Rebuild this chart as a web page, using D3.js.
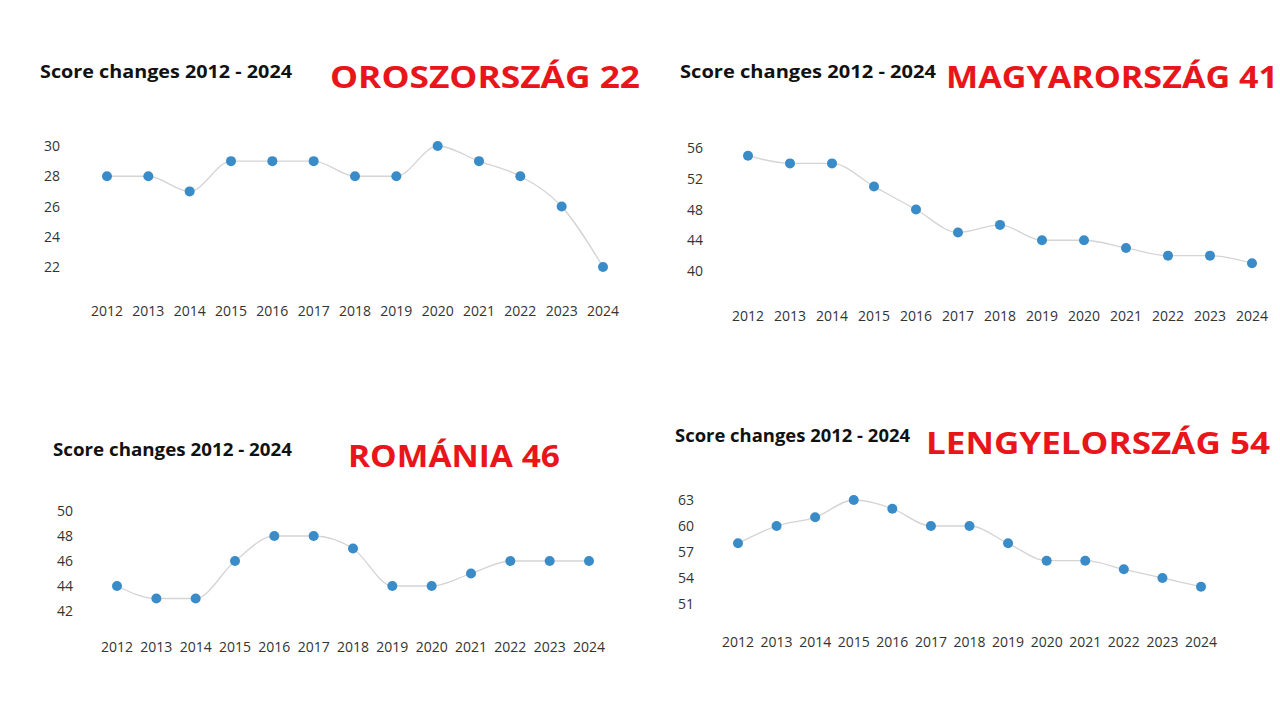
<!DOCTYPE html>
<html><head><meta charset="utf-8">
<script src="https://cdn.jsdelivr.net/npm/d3@7"></script>
<style>body{margin:0;background:#fff}text{font-family:"Open Sans",sans-serif}</style>
</head><body>
<svg id="c" width="1280" height="720"></svg>
<script>
const years = d3.range(2012, 2025)
const panels = [
  {name: "OROSZORSZÁG 22", vals: [28,28,27,29,29,29,28,28,30,29,28,26,22],
   title: [40, 78, 252], red: [330, 88, 310], x: [107, 603], y: [146, 267], yd: [30, 22], ticks: [22,24,26,28,30], ly: 316, lx: 60},
  {name: "MAGYARORSZÁG 41", vals: [55,54,54,51,48,45,46,44,44,43,42,42,41],
   title: [680, 78, 256], red: [946, 88, 332], x: [748, 1252], y: [148, 271], yd: [56, 40], ticks: [40,44,48,52,56], ly: 321, lx: 703},
  {name: "ROMÁNIA 46", vals: [44,43,43,46,48,48,47,44,44,45,46,46,46],
   title: [53, 456, 239], red: [348, 467, 212], x: [117, 589], y: [511, 611], yd: [50, 42], ticks: [42,44,46,48,50], ly: 652, lx: 73},
  {name: "LENGYELORSZÁG 54", vals: [58,60,61,63,62,60,60,58,56,56,55,54,53],
   title: [675, 442, 235], red: [926, 454, 344], x: [738, 1201], y: [500, 604], yd: [63, 51], ticks: [51,54,57,60,63], ly: 647, lx: 694}
]
const svg = d3.select("#c")

panels.forEach(p => {
  const g = svg.append("g")
  const x = d3.scaleLinear().domain([2012, 2024]).range(p.x)
  const y = d3.scaleLinear().domain(p.yd).range(p.y)

  g.append("text").attr("x", p.title[0]).attr("y", p.title[1])
    .attr("font-size", 17).attr("font-weight", "bold").attr("fill", "#111")
    .attr("textLength", p.title[2]).attr("lengthAdjust", "spacingAndGlyphs")
    .text("Score changes 2012 - 2024")
  g.append("text").attr("x", p.red[0]).attr("y", p.red[1])
    .attr("font-size", 31).attr("font-weight", "bold").attr("fill", "#e8161b")
    .attr("textLength", p.red[2]).attr("lengthAdjust", "spacingAndGlyphs")
    .text(p.name)

  g.selectAll(".yl").data(p.ticks).enter().append("text")
    .attr("x", p.lx).attr("y", d => y(d) + 5).attr("text-anchor", "end")
    .attr("font-size", 14).attr("fill", "#333").text(d => d)
  g.selectAll(".xl").data(years).enter().append("text")
    .attr("x", d => x(d)).attr("y", p.ly).attr("text-anchor", "middle")
    .attr("font-size", 14).attr("fill", "#333").text(d => d)

  const line = d3.line().x((d, i) => x(years[i])).y(d => y(d)).curve(d3.curveMonotoneX)
  g.append("path").attr("d", line(p.vals)).attr("fill", "none")
    .attr("stroke", "#d4d4d4").attr("stroke-width", 1.3)
  g.selectAll("circle").data(p.vals).enter().append("circle")
    .attr("cx", (d, i) => x(years[i])).attr("cy", d => y(d)).attr("r", 5)
    .attr("fill", "#3a8cc9")
})
</script>
</body></html>
